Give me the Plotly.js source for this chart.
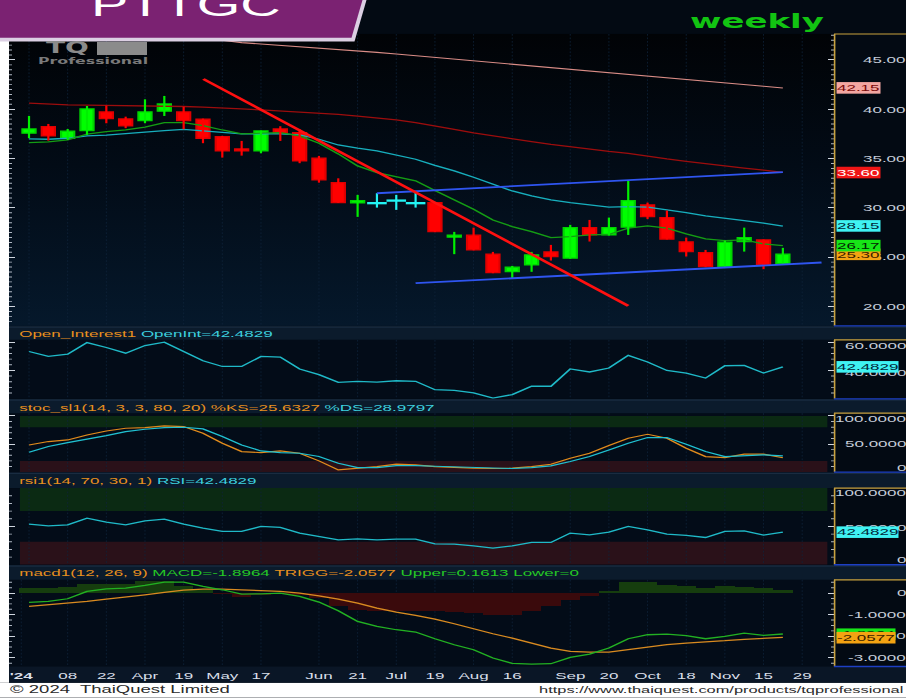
<!DOCTYPE html>
<html>
<head>
<meta charset="utf-8">
<script src="https://cdn.plot.ly/plotly-3.0.1.min.js"></script>
<style>
html,body{margin:0;padding:0;background:#ffffff;overflow:hidden;}
#wrap{width:906px;height:698px;overflow:hidden;position:relative;}
#chart{position:absolute;left:0;top:0;transform-origin:0 0;}
</style>
</head>
<body>
<div id="wrap"><div id="chart"></div></div>
<script>
// ================= DATA =================
const weekEnding = ['2024-02-23','2024-03-01','2024-03-08','2024-03-15','2024-03-22','2024-03-29','2024-04-05','2024-04-12','2024-04-19','2024-04-26',
  '2024-05-03','2024-05-10','2024-05-17','2024-05-24','2024-05-31','2024-06-07','2024-06-14','2024-06-21','2024-06-28','2024-07-05',
  '2024-07-12','2024-07-19','2024-07-26','2024-08-02','2024-08-09','2024-08-16','2024-08-23','2024-08-30','2024-09-06','2024-09-13',
  '2024-09-20','2024-09-27','2024-10-04','2024-10-11','2024-10-18','2024-10-25','2024-11-01','2024-11-08','2024-11-15','2024-11-22'];

const priceOpen  = [37.57,38.24,37.06,37.83,39.73,39.02,38.85,39.80,39.73,38.99, 37.22,35.98,35.78,38.00,37.63,35.04,32.56,30.50,30.48,30.74,
                    30.48,30.54,27.03,27.23,25.31,23.55,24.22,25.54,24.90,28.00, 27.26,28.04,30.30,29.02,26.56,25.47,24.05,26.59,26.76,24.33];
const priceHigh  = [39.32,38.51,38.00,40.33,40.37,39.25,41.01,41.35,40.26,39.05, 37.30,36.79,37.85,38.28,37.97,35.27,33.00,31.32,31.49,31.32,
                    31.55,30.60,27.57,28.00,25.54,24.12,25.54,26.25,28.28,28.78, 29.02,32.74,30.54,29.73,26.99,25.74,26.69,28.00,26.80,25.95];
const priceLow   = [37.06,36.82,36.89,37.40,38.58,38.08,38.58,39.32,37.97,36.56, 35.10,35.30,35.54,36.79,34.53,32.56,30.50,29.09,30.03,29.80,
                    30.03,27.55,25.31,25.70,23.38,22.80,23.52,24.66,24.85,26.59, 27.20,27.26,28.86,26.80,25.07,23.99,23.99,25.57,23.79,24.30];
const priceClose = [38.00,37.29,37.77,40.03,39.05,38.31,39.73,40.54,38.85,37.06, 35.78,35.78,37.80,37.57,34.76,32.84,30.54,30.74,30.48,30.74,
                    30.48,27.60,27.23,25.74,23.44,23.99,25.24,25.07,28.00,27.26, 28.00,30.74,29.12,26.83,25.57,24.05,26.52,26.99,24.22,25.30];

const maGreen   = [36.62,36.69,36.89,37.47,37.73,37.90,38.18,38.64,38.64,38.34, 37.90,37.50,37.57,37.63,37.30,36.56,35.47,34.26,33.58,33.17,
                   32.74,31.77,30.81,29.87,28.78,28.10,27.60,26.99,27.09,27.26, 27.31,27.94,28.18,27.94,27.37,26.86,26.69,26.76,26.35,26.17];
const maCyan    = [36.99,36.96,37.06,37.29,37.37,37.50,37.67,37.83,37.97,37.80, 37.67,37.50,37.50,37.50,37.40,36.96,36.38,36.05,35.78,35.37,
                   34.93,34.31,33.75,33.11,32.43,31.72,31.22,30.81,30.54,30.30, 30.07,30.13,30.07,29.80,29.52,29.19,28.96,28.71,28.45,28.15];
const maDarkRed = [40.61,40.52,40.44,40.42,40.40,40.38,40.36,40.33,40.28,40.22, 40.14,40.05,39.93,39.82,39.70,39.59,39.47,39.30,39.12,38.92,
                   38.65,38.33,37.97,37.60,37.30,37.00,36.72,36.45,36.20,35.96, 35.74,35.53,35.24,34.96,34.72,34.48,34.25,34.03,33.82,33.60];
const maPink    = [48.30,48.18,48.06,47.94,47.82,47.70,47.57,47.44,47.30,47.15, 46.99,46.76,46.62,46.49,46.35,46.21,46.07,45.92,45.77,45.60,
                   45.43,45.24,45.05,44.88,44.71,44.54,44.37,44.20,44.03,43.86, 43.69,43.52,43.35,43.18,43.01,42.84,42.67,42.50,42.33,42.15];

const openInt = [53.4,49.9,51.5,59.7,56.2,52.2,57.6,60.0,53.4,46.8, 42.8,42.8,49.9,49.4,41.0,37.0,31.6,32.3,31.8,32.7,
                 32.3,26.4,25.9,24.1,20.5,22.9,28.8,28.8,41.0,38.9, 41.7,50.6,45.9,40.0,38.1,34.6,43.3,43.5,38.1,42.4829];

const stochK = [48.4,54.4,57.3,66.2,73.3,78.1,79.3,82.2,81.0,69.2, 51.4,36.6,34.8,37.8,33.6,20.0,4.0,7.0,9.9,14.1,
                12.9,9.9,8.1,7.0,6.4,7.0,9.9,14.1,24.7,33.6, 47.3,60.3,67.4,60.3,42.5,27.7,25.9,31.9,31.9,25.6327];
const stochD = [35.4,45.5,52.6,58.5,65.0,72.1,76.3,79.3,79.9,76.9, 63.3,48.4,37.8,34.8,33.6,27.7,15.9,8.1,8.1,11.7,
                11.7,10.5,9.3,8.1,7.0,6.4,8.1,11.1,18.8,27.7, 39.6,51.4,61.5,61.5,49.6,36.6,27.7,28.9,30.7,28.9797];

const rsi = [53.0,50.8,52.2,60.9,55.6,52.2,57.4,59.5,53.0,47.8, 43.5,43.5,50.0,48.7,41.3,36.9,32.6,33.9,32.6,33.5,
             33.5,27.4,26.9,24.8,21.7,24.8,29.1,29.1,41.3,39.1, 42.6,50.0,45.6,40.0,38.3,35.6,43.5,44.3,38.7,42.4829];

const macd = [-0.434,-0.387,-0.264,0.076,0.199,0.230,0.353,0.508,0.508,0.307, 0.153,-0.048,-0.032,0.000,-0.156,-0.418,-0.819,-1.313,-1.545,-1.699,
              -1.807,-2.116,-2.394,-2.625,-3.011,-3.258,-3.289,-3.273,-2.980,-2.826, -2.548,-2.116,-1.931,-1.900,-1.977,-2.116,-2.008,-1.853,-1.961,-1.8964];
const macdTrigger = [-0.619,-0.542,-0.464,-0.387,-0.279,-0.187,-0.079,0.029,0.137,0.184, 0.184,0.153,0.106,0.076,0.000,-0.125,-0.279,-0.464,-0.696,-0.881,
              -1.035,-1.205,-1.421,-1.653,-1.884,-2.085,-2.316,-2.548,-2.702,-2.733, -2.733,-2.625,-2.517,-2.394,-2.316,-2.270,-2.208,-2.140,-2.095,-2.0577];
const macdHist = [0.23,0.23,0.26,0.43,0.43,0.43,0.54,0.54,0.35,0.15, -0.05,-0.19,-0.08,-0.05,-0.11,-0.23,-0.62,-0.77,-0.82,-0.85,
              -0.85,-0.85,-0.88,-0.93,-1.03,-1.00,-0.85,-0.62,-0.31,-0.12, 0.08,0.51,0.51,0.39,0.31,0.23,0.31,0.26,0.23,0.1613];

const tickIdx  = [-0.4,2,4,6,8,10,12,15,17,19,21,23,25,28,30,32,34,36,38,40];
const tickText = ["<b>'24</b>",'08','22','Apr','19','May','17','Jun','21','Jul','19','Aug','16','Sep','20','Oct','18','Nov','15','29'];

const trendDown     = {x:[9.02, 31.0], y:[43.07, 20.07]};
const channelTop    = {x:[18, 39],     y:[31.49, 33.62]};
const channelBottom = {x:[20, 41],     y:[22.37, 24.46]};

const priceTicks = [20,25,30,35,40,45];

// ================= GEOMETRY / STYLE =================
const S = 0.58;                 // vertical squash of the reference
const W = 906, H = 698 / S;
const el = document.getElementById('chart');
el.style.width = W + 'px'; el.style.height = H + 'px';
el.style.transform = 'scaleY(' + S + ')';
const PX = v => v / W;
const PY = v => 1 - v / 698;
const XL = 9, XR = 834, XLAB = 908;
const XRANGE = [-1.035, 41.645];
const FONT = 'Liberation Sans, Arial, sans-serif';
const BOLD = 'DejaVu Sans, Verdana, sans-serif';

const panels = [
  {k:'',  top:34,    bot:326,   range:[18.04,47.63], dtick:5,  minor:0.5},
  {k:'2', top:340,   bot:399,   range:[19.9,61.6],   dtick:20, minor:4},
  {k:'3', top:413.3, bot:472.3, range:[0,105],       dtick:50, minor:10},
  {k:'4', top:488.3, bot:565,   range:[0,100],       dtick:50, minor:10},
  {k:'5', top:580,   bot:666.7, range:[-3.40,0.616], dtick:1,  minor:0.25}
];

const layout = {
  width: W, height: H,
  margin: {l:0, r:0, t:0, b:0},
  paper_bgcolor: '#030a13',
  plot_bgcolor: '#030c18',
  showlegend: false,
  hovermode: false,
  barmode: 'overlay',
  bargap: 0,
  shapes: [], annotations: [], images: []
};

const gridIdx = [0].concat(tickIdx.slice(1));
panels.forEach((p, i) => {
  const last = i === panels.length - 1;
  layout['xaxis' + p.k] = {
    domain: [PX(XL), PX(XR)], range: XRANGE, anchor: 'y' + p.k,
    showgrid: true, gridcolor: '#0f243a', griddash: 'dot', gridwidth: 1,
    zeroline: false, showline: false, ticks: '',
    showticklabels: last, fixedrange: true,
    tickmode: 'array', tickvals: last ? tickIdx : gridIdx, ticktext: last ? tickText : gridIdx.map(String),
    tickfont: {family: FONT, size: 17, color: '#d9dfe9'}, ticklabelstandoff: 4
  };
  layout['yaxis' + p.k] = {
    domain: [PY(p.bot), PY(p.top)], range: p.range, anchor: 'x' + p.k,
    side: 'right', showgrid: false, zeroline: false, showline: false,
    showticklabels: false, fixedrange: true,
    ticks: 'inside', ticklen: 6, tickwidth: 1.8, tickcolor: '#cfd5de',
    dtick: p.dtick, tick0: 0, mirror: 'ticks',
    minor: {ticks: 'inside', ticklen: 3, tickwidth: 1.6, tickcolor: '#aeb6c2', dtick: p.minor, tick0: 0, showgrid: false}
  };
});

// price panel background gradient (as a stretched SVG image under the traces)
const pr = panels[0].range;
const gradSvg = '<svg xmlns="http://www.w3.org/2000/svg" width="10" height="100" viewBox="0 0 10 100" preserveAspectRatio="none">' +
  '<defs><linearGradient id="g" x1="0" y1="0" x2="0" y2="1"><stop offset="0" stop-color="#010306"/>' +
  '<stop offset="0.45" stop-color="#020b16"/><stop offset="1" stop-color="#05182b"/></linearGradient></defs>' +
  '<rect width="10" height="100" fill="url(#g)"/></svg>';
layout.images.push({source:'data:image/svg+xml;charset=utf-8,' + encodeURIComponent(gradSvg),
  xref:'x', yref:'y', x:XRANGE[0], y:pr[1], sizex:XRANGE[1] - XRANGE[0], sizey:pr[1] - pr[0],
  xanchor:'left', yanchor:'top', sizing:'stretch', layer:'below'});

const idx = priceClose.map((_, i) => i);
const isDoji = i => priceOpen[i] === priceClose[i];
const isUp = i => priceClose[i] > priceOpen[i];

const traces = [];
const lineTrace = (y, color, w, xa, ya) => ({type:'scatter', mode:'lines', x: idx, y, line:{color, width:w}, hoverinfo:'skip', xaxis:xa, yaxis:ya});

// candle bodies (open-close) -- bars sit in the lowest trace layer
const bodyIdx = idx.filter(i => !isDoji(i));
traces.push({type:'bar', x: bodyIdx,
  base: bodyIdx.map(i => Math.min(priceOpen[i], priceClose[i])),
  y: bodyIdx.map(i => Math.abs(priceClose[i] - priceOpen[i])),
  width: 0.68,
  marker:{color: bodyIdx.map(i => isUp(i) ? '#00ff00' : '#ff0000'),
          line:{color: bodyIdx.map(i => isUp(i) ? '#00d400' : '#e00000'), width:2.2}},
  hoverinfo:'skip', xaxis:'x', yaxis:'y'});

traces.push(lineTrace(maPink, '#d98c86', 2.0, 'x', 'y'));
traces.push(lineTrace(maDarkRed, '#9c0d0d', 2.2, 'x', 'y'));
traces.push(lineTrace(maCyan, '#17aebd', 2.2, 'x', 'y'));
traces.push(lineTrace(maGreen, '#149c14', 2.2, 'x', 'y'));

// candle wicks (high-low), one trace per colour
const wick = (filter, color) => {
  const xs = [], ys = [];
  idx.filter(filter).forEach(i => { xs.push(i, i, null); ys.push(priceLow[i], priceHigh[i], null); });
  return {type:'scatter', mode:'lines', x: xs, y: ys, line:{color, width:2.2}, hoverinfo:'skip', xaxis:'x', yaxis:'y', connectgaps:false};
};
traces.push(wick(i => !isDoji(i) && isUp(i), '#00f000'));
traces.push(wick(i => !isDoji(i) && !isUp(i), '#ff0000'));
traces.push(wick(i => isDoji(i), '#22f2f2'));
// doji bars (open == close)
const dojiIdx = idx.filter(i => isDoji(i));
traces.push({type:'scatter', mode:'markers', x: dojiIdx, y: dojiIdx.map(i => priceClose[i]),
  marker:{symbol:'line-ew', size:14, line:{color:'#22f2f2', width:4}}, hoverinfo:'skip', xaxis:'x', yaxis:'y'});

const seg = (o, color, w) => ({type:'scatter', mode:'lines', x:o.x, y:o.y, line:{color, width:w}, hoverinfo:'skip', xaxis:'x', yaxis:'y'});
traces.push(seg(channelTop, '#2f55f0', 3.2));
traces.push(seg(channelBottom, '#2f55f0', 3.2));
traces.push(seg(trendDown, '#ff1010', 3.8));

traces.push(lineTrace(openInt, '#1fb9c7', 2.2, 'x2', 'y2'));
traces.push(lineTrace(stochK, '#df8a1c', 2.0, 'x3', 'y3'));
traces.push(lineTrace(stochD, '#20c0d0', 2.0, 'x3', 'y3'));
traces.push(lineTrace(rsi, '#1fb9c7', 2.2, 'x4', 'y4'));
traces.push({type:'bar', x: idx, y: macdHist, width: 1,
  marker:{color: macdHist.map(v => v >= 0 ? '#163d0e' : '#3a0a0c'), line:{width:0}},
  hoverinfo:'skip', xaxis:'x5', yaxis:'y5'});
traces.push(lineTrace(macdTrigger, '#d88a20', 2.2, 'x5', 'y5'));
traces.push(lineTrace(macd, '#22b022', 2.2, 'x5', 'y5'));

// ================= SHAPES =================
const sh = layout.shapes;
const rect = (x0, x1, top, bot, fill, layer) => sh.push({type:'rect', xref:'paper', yref:'paper',
  x0:PX(x0), x1:PX(x1), y0:PY(bot), y1:PY(top), fillcolor:fill, line:{width:0}, layer: layer || 'below'});
const hline = (x0, x1, y, color, w) => sh.push({type:'line', xref:'paper', yref:'paper',
  x0:PX(x0), x1:PX(x1), y0:PY(y), y1:PY(y), line:{color, width:w / S}, layer:'above'});
const vline = (x, top, bot, color, w) => sh.push({type:'line', xref:'paper', yref:'paper',
  x0:PX(x), x1:PX(x), y0:PY(bot), y1:PY(top), line:{color, width:w}, layer:'above'});

rect(0, XL, 41, 683, '#ffffff');            // left white strip
rect(0, 906, 683, 698, '#ffffff');          // footer
rect(XL, 906, 666.7, 683, '#0a1626');       // time axis strip
const headers = [[326.5,340],[399.5,413.3],[472.8,488.3],[565.5,580]];
headers.forEach(h => { rect(XL, 906, h[0], h[1], '#0b1b2c'); hline(XL, 906, h[0] + 0.6, '#1f3349', 1); });

// overbought / oversold zones
const zone = (ya, y0, y1, fill) => sh.push({type:'rect', xref:'x' + ya, yref:'y' + ya, x0:-0.47, x1:41.3, y0, y1,
  fillcolor:fill, line:{width:0}, layer:'below'});
zone('3', 80, 100, '#0b2a13'); zone('3', 0, 20, '#2a1119');
zone('4', 70, 100, '#0b2a13'); zone('4', 0, 30, '#2a1119');

// right axis frames
panels.forEach(p => {
  vline(XR + 0.6, p.top, p.bot, '#c9a23f', 1.6);
  hline(XR, 906, p.top, '#c9a23f', 1.2);
  hline(XR, 906, p.bot, '#1d3fc4', 1.4);
});

// logo block
rect(97, 147, 42, 55, '#8b8b8b', 'above');
// banner
const path = pts => 'M ' + pts.map(q => PX(q[0]) + ' ' + PY(q[1])).join(' L ') + ' Z';
sh.push({type:'path', xref:'paper', yref:'paper', path: path([[0,0],[366.5,0],[354.5,41.5],[0,41.5]]), fillcolor:'#dccfe3', line:{width:0}, layer:'above'});
sh.push({type:'path', xref:'paper', yref:'paper', path: path([[0,0],[362.5,0],[351.5,37.8],[0,37.8]]), fillcolor:'#7b2272', line:{width:0}, layer:'above'});

// ================= ANNOTATIONS =================
const an = layout.annotations;
const txt = (o) => an.push(Object.assign({showarrow:false, xref:'paper', yref:'paper'}, o));

// headers
const c = (col, t) => '<span style="color:' + col + '">' + t + '</span>';
const OR = '#e8901e', CY = '#3dd0df', GR = '#25c825';
const headerTexts = [
  c(OR, 'Open_Interest1') + ' ' + c(CY, 'OpenInt=' + openInt[39].toFixed(4)),
  c(OR, 'stoc_sl1(14, 3, 3, 80, 20) %KS=' + stochK[39].toFixed(4)) + ' ' + c(CY, '%DS=' + stochD[39].toFixed(4)),
  c(OR, 'rsi1(14, 70, 30, 1)') + ' ' + c(CY, 'RSI=' + rsi[39].toFixed(4)),
  c(OR, 'macd1(12, 26, 9)') + ' ' + c(GR, 'MACD=' + macd[39].toFixed(4)) + ' ' + c(OR, 'TRIGG=' + macdTrigger[39].toFixed(4)) + ' ' +
    c(GR, 'Upper=' + macdHist[39].toFixed(4) + ' Lower=0')
];
const headerY = [334, 407.5, 481, 573];
headerTexts.forEach((t, i) => txt({x:PX(17), y:PY(headerY[i]), xanchor:'left', yanchor:'middle', text:t,
  font:{family:FONT, size:17, color:OR}}));

// right-hand scale labels
const LBL = {family:FONT, size:17, color:'#c6cdd9'};
priceTicks.forEach(v => txt({x:PX(XLAB), xanchor:'right', yref:'y', y:v, yanchor:'middle', text:v.toFixed(2), font:LBL}));
const subLabels = [
  ['2', [[60,'60.0000',-4],[40,'40.0000',-2]]],
  ['3', [[100,'100.0000',-3],[50,'50.0000',0],[0,'0',4.5]]],
  ['4', [[100,'100.0000',-5],[50,'50.0000',-1],[0,'0',5]]],
  ['5', [[0,'0',0],[-1,'-1.0000',0],[-2,'-2.0000',0],[-3,'-3.0000',0]]]
];
subLabels.forEach(([k, list]) => list.forEach(([v, t, s]) =>
  txt({x:PX(XLAB), xanchor:'right', yref:'y' + k, y:v, yanchor:'middle', yshift:s / S, text:t, font:LBL})));

// value boxes
const box = (ya, v, t, bg, fg) => txt({x:PX(835.5), xanchor:'left', yref:ya, y:v, yanchor:'middle', text:t,
  bgcolor:bg, borderpad:0, font:{family:FONT, size:17, color:fg}});
box('y', priceClose[39], priceClose[39].toFixed(2), '#f4a312', '#3a2200');
box('y', maGreen[39], maGreen[39].toFixed(2), '#17e617', '#032403');
box('y', maCyan[39], maCyan[39].toFixed(2), '#3ff2f2', '#01283a');
box('y', maDarkRed[39], maDarkRed[39].toFixed(2), '#f01616', '#ffffff');
box('y', maPink[39], maPink[39].toFixed(2), '#f3a6a1', '#7a0a0a');
box('y2', openInt[39], openInt[39].toFixed(4), '#3ff2f2', '#01283a');
box('y4', rsi[39], rsi[39].toFixed(4), '#3ff2f2', '#01283a');
box('y5', macd[39], macd[39].toFixed(4), '#19e619', '#032403');
box('y5', macdTrigger[39], macdTrigger[39].toFixed(4), '#f4a312', '#3a2200');

// title, period, watermark, footer
txt({x:PX(186), y:PY(24), xanchor:'center', yanchor:'bottom', text:'PTTGC', font:{family:FONT, size:56, color:'#ffffff'}});
txt({x:PX(757), y:PY(21), xanchor:'center', yanchor:'middle', text:'<b>weekly</b>', font:{family:BOLD, size:34, color:'#12c412'}});
txt({x:PX(44), y:PY(58.5), xanchor:'left', yanchor:'bottom', text:'<b>TQ</b>', font:{family:BOLD, size:28, color:'#8b8b8b'}});
txt({x:PX(36), y:PY(61), xanchor:'left', yanchor:'middle', text:'<b>Professional</b>', font:{family:BOLD, size:15.8, color:'#7a7a7a'}});
txt({x:PX(8), y:PY(689.5), xanchor:'left', yanchor:'middle', text:'© 2024  ThaiQuest Limited', font:{family:FONT, size:18.5, color:'#2a2a2a'}});
txt({x:PX(905), y:PY(689.5), xanchor:'right', yanchor:'middle', text:'https://www.thaiquest.com/products/tqprofessional', font:{family:FONT, size:16.4, color:'#2a2a2a'}});

Plotly.newPlot(el, traces, layout, {staticPlot:true, displayModeBar:false});
</script>
</body>
</html>
